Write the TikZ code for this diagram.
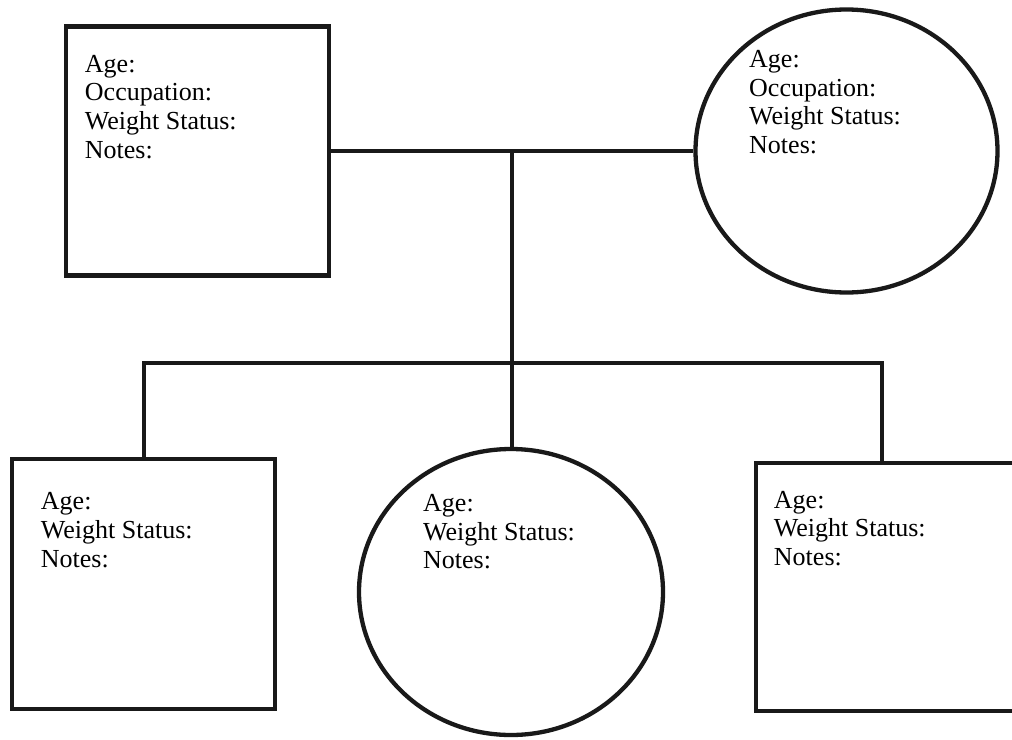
\documentclass[tikz,border=0pt]{standalone}
\usepackage{fontspec}
\setmainfont{Liberation Serif}
\usetikzlibrary{positioning, shapes.geometric}

\begin{document}
\begin{tikzpicture}[
    x=1pt, y=-1pt,
    male/.style={draw=black!90, line width=4.5pt, rectangle, minimum width=263pt, minimum height=249pt},
    female/.style={draw=black!90, line width=4.3pt, ellipse, inner sep=0pt},
    info/.style={inner sep=0pt, align=left, font=\fontsize{26}{28.8}\selectfont},
    link/.style={draw=black!90, line width=4pt}
]
    \useasboundingbox (0,0) rectangle (1012,739);

    % parents
    \node[male] (dad) at (197.5,151) {};
    \node[female, minimum width=302pt, minimum height=283pt] (mum) at (846.5,151) {};

    % children
    \node[male, minimum height=250pt] (kid1) at (143.5,584) {};
    \node[female, minimum width=304pt, minimum height=286pt] (kid2) at (511,592) {};
    \node[male, minimum height=248pt] (kid3) at (887.5,587) {};

    % texts
    \node[info, below right=30.5pt and 21pt of dad.north west] (dadtxt) {Age:\\Occupation:\\Weight Status:\\Notes:};
    \node[info, anchor=north west] (mumtxt) at ([shift={(-97.5,-101)}]mum.center) {Age:\\Occupation:\\Weight Status:\\Notes:};
    \node[info, below right=35.5pt and 31pt of kid1.north west] (kid1txt) {Age:\\Weight Status:\\Notes:};
    \node[info, anchor=north west] (kid2txt) at ([shift={(-88,-98)}]kid2.center) {Age:\\Weight Status:\\Notes:};
    \node[info, below right=30pt and 20pt of kid3.north west] (kid3txt) {Age:\\Weight Status:\\Notes:};

    % lines
    \draw[link] (dad) -- coordinate (mid) (mum);
    \draw[link] (mid) -- (mid |- kid2.north);
    \coordinate (sibs) at (511.5,363);
    \coordinate (drop3) at ([xshift=-6pt]kid3.north);
    \draw[link] (kid1.north) |- (sibs) -| (drop3);
\end{tikzpicture}
\end{document}
